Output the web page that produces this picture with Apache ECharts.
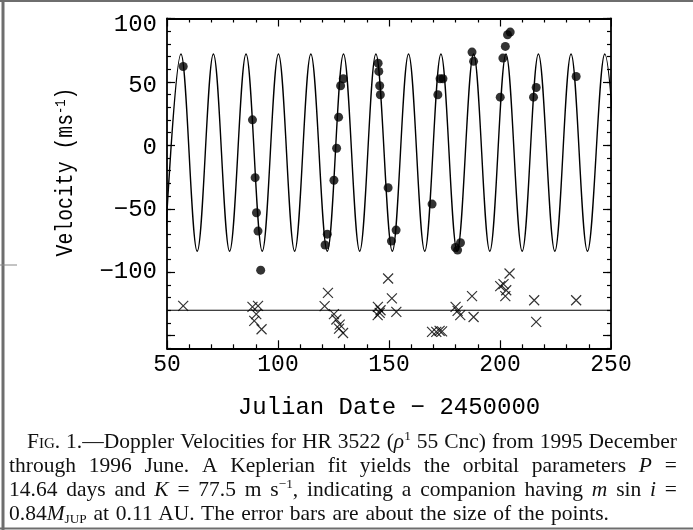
<!DOCTYPE html>
<html>
<head>
<meta charset="utf-8">
<script src="https://cdn.jsdelivr.net/npm/echarts@6/dist/echarts.min.js"></script>
<style>
  html, body { margin:0; padding:0; background:#fff; }
  #chart { position:absolute; left:0; top:0; width:693px; height:530px; }
  .cap { position:absolute; font-family:"Liberation Serif","Times New Roman",serif; font-size:21.5px; color:#111;
         display:flex; justify-content:space-between; white-space:nowrap; line-height:24px; height:24px; }
  .cap span { white-space:nowrap; }
  .sc { font-variant: small-caps; }
  sup, sub { font-size:62%; line-height:0; }
  sup { vertical-align: 0.6em; }
  sub { vertical-align: -0.25em; }
</style>
</head>
<body>
<div id="chart"></div>
<div id="caption"></div>
<script>
// ---- data ----
const xMin = 50, xMax = 250, yMin = -160, yMax = 100;
const xTickValues = [50, 100, 150, 200, 250];
const yLabelValues = [100, 50, 0, -50, -100];
const yMajorTickValues = [-150, -100, -50, 0, 50, 100];

// Observed velocities (filled circles)
const velDays = [57.3, 88.5, 89.7, 90.3, 91.0, 92.2, 121.2, 122.2, 125.2, 126.4, 127.3, 128.2, 129.4,
  145.1, 145.4, 145.8, 146.1, 149.6, 151.1, 153.2, 169.4, 172.0, 173.0, 174.3, 179.9, 180.9, 182.2,
  187.4, 188.1, 200.1, 201.3, 202.4, 203.4, 204.6, 215.1, 216.3, 234.3];
const velValues = [62.2, 20.1, -25.5, -53.1, -67.6, -98.4, -78.6, -70.0, -27.5, -2.3, 22.2, 47.0, 52.5,
  64.8, 58.3, 47.0, 39.9, -33.4, -75.5, -66.8, -46.3, 39.9, 52.5, 52.5, -80.5, -82.6, -76.8,
  73.5, 66.2, 38.0, 68.8, 78.0, 87.2, 89.3, 38.0, 45.6, 54.3];

// Residuals, plotted offset (crosses)
const resDays = [57.3, 88.5, 89.3, 90.2, 91.0, 92.6, 121.0, 122.5, 125.2, 126.3, 127.5, 127.8, 129.3,
  144.9, 145.0, 145.8, 146.2, 149.6, 151.3, 153.3, 169.4, 171.3, 172.8, 173.9, 180.0, 180.9, 182.1,
  187.4, 188.1, 200.1, 201.6, 202.4, 202.8, 204.3, 215.4, 216.3, 234.3];
const resValues = [-126.6, -127.4, -138.4, -133.1, -126.6, -145.0, -126.8, -116.3, -133.1, -137.3, -144.5, -141.3, -147.9,
  -133.9, -127.4, -132.1, -130.0, -105.0, -120.7, -131.3, -147.1, -147.1, -146.3, -146.6, -127.4, -130.5, -133.9,
  -118.9, -135.3, -111.0, -109.4, -118.9, -114.2, -101.0, -122.1, -139.2, -122.1];
const residualZero = -130;

// Keplerian fit curve: extremes (peaks / troughs)
const fitPeakDays = [56.3, 70.9, 85.6, 100.2, 114.8, 129.5, 144.1, 158.8, 173.4, 188.1, 202.7, 217.3, 232.0, 247.2];
const fitTroughDays = [49.0, 63.6, 78.2, 92.9, 107.5, 122.2, 136.8, 151.5, 166.1, 180.7, 195.4, 210.0, 224.7, 239.4, 254.5];
const fitPeakValue = 72.0, fitTroughValue = -83.5;

// ---- build series data ----
const fitData = fitPeakDays.map(d => [d, fitPeakValue])
  .concat(fitTroughDays.map(d => [d, fitTroughValue]))
  .sort((a, b) => a[0] - b[0]);
const velData = velDays.map((d, i) => [d, velValues[i]]);
const resData = resDays.map((d, i) => [d, resValues[i]]);
const zeroData = [[xMin, residualZero], [xMax, residualZero]];

const FONT = '"Liberation Mono", "DejaVu Sans Mono", monospace';
const lineStyle = { color: '#000', width: 1.8 };
const tickStyle = { color: '#000', width: 1.2 };

// small vertical nudges of the y labels, as drawn in the original
const yLabelShift = { '100': 6.5, '50': 4, '0': 2, '-50': 0.5, '-100': -1 };
const yRich = {};
yLabelValues.forEach(v => {
  const s = yLabelShift[String(v)];
  yRich['y' + (v < 0 ? 'm' : 'p') + Math.abs(v)] = {
    fontFamily: FONT, fontSize: 24, color: '#000',
    padding: s >= 0 ? [2 * s, 0, 0, 0] : [0, 0, -2 * s, 0]
  };
});
function fmtY(v) {
  if (yLabelValues.indexOf(v) < 0) return '';
  const key = 'y' + (v < 0 ? 'm' : 'p') + Math.abs(v);
  return '{' + key + '|' + (v < 0 ? '\u2212' : '') + Math.abs(v) + '}';
}

const chart = echarts.init(document.getElementById('chart'), null, { renderer: 'canvas' });
const baseY = { type: 'value', min: yMin, max: yMax, splitLine: { show: false }, offset: 0 };
const baseX = { type: 'value', min: xMin, max: xMax, interval: 50, splitLine: { show: false }, offset: 0 };

chart.setOption({
  animation: false,
  backgroundColor: '#fff',
  grid: { left: 167, right: 82, top: 18.5, bottom: 181.7, containLabel: false, outerBoundsMode: 'none' },
  xAxis: [
    Object.assign({}, baseX, {
      position: 'bottom',
      axisLine: { show: true, onZero: false, lineStyle: lineStyle },
      axisTick: { show: true, inside: true, length: 8, lineStyle: tickStyle },
      minorTick: { show: true, splitNumber: 5, length: 4, lineStyle: tickStyle },
      axisLabel: { show: true, color: '#000', fontFamily: FONT, fontSize: 23, margin: 5,
        customValues: xTickValues, formatter: v => String(v) }
    }),
    Object.assign({}, baseX, {
      position: 'top',
      axisLine: { show: true, onZero: false, lineStyle: lineStyle },
      axisTick: { show: true, inside: true, length: 8, lineStyle: tickStyle },
      minorTick: { show: true, splitNumber: 5, length: 4, lineStyle: tickStyle },
      axisLabel: { show: false }
    })
  ],
  yAxis: [
    Object.assign({}, baseY, {
      position: 'left', interval: 10,
      axisLine: { show: true, onZero: false, lineStyle: lineStyle },
      axisTick: { show: true, inside: true, length: 4, lineStyle: tickStyle },
      axisLabel: { show: true, color: '#000', fontFamily: FONT, fontSize: 24, margin: 10, formatter: fmtY, rich: yRich }
    }),
    Object.assign({}, baseY, {
      position: 'left', interval: 10,
      axisLine: { show: false },
      axisTick: { show: true, inside: true, length: 8, lineStyle: tickStyle, customValues: yMajorTickValues },
      axisLabel: { show: false }
    }),
    Object.assign({}, baseY, {
      position: 'right', interval: 10,
      axisLine: { show: true, onZero: false, lineStyle: lineStyle },
      axisTick: { show: true, inside: true, length: 4, lineStyle: tickStyle },
      axisLabel: { show: false }
    }),
    Object.assign({}, baseY, {
      position: 'right', interval: 10,
      axisLine: { show: false },
      axisTick: { show: true, inside: true, length: 8, lineStyle: tickStyle, customValues: yMajorTickValues },
      axisLabel: { show: false }
    })
  ],
  series: [
    { type: 'line', name: 'fit', data: fitData, smooth: 0.36, showSymbol: false, clip: true,
      lineStyle: { color: '#000', width: 1.4 }, xAxisIndex: 0, yAxisIndex: 0, silent: true },
    { type: 'line', name: 'zero', data: zeroData, showSymbol: false, clip: true,
      lineStyle: { color: '#000', width: 1.1 }, xAxisIndex: 0, yAxisIndex: 0, silent: true },
    { type: 'scatter', name: 'velocity', data: velData, symbol: 'circle', symbolSize: 9,
      itemStyle: { color: '#000' }, xAxisIndex: 0, yAxisIndex: 0 },
    { type: 'scatter', name: 'residual', data: resData, symbol: 'path://M0,0L10,10M10,0L0,10', symbolSize: 10,
      itemStyle: { color: 'none', borderColor: '#000', borderWidth: 1.2 }, xAxisIndex: 0, yAxisIndex: 0 }
  ],
  graphic: [
    // mask the slight overdraw of the clipped fit curve beyond the frame
    { type: 'rect', z: 100, shape: { x: 612, y: 19, width: 8, height: 329 }, style: { fill: '#fff' } },
    { type: 'rect', z: 100, shape: { x: 159, y: 19, width: 7, height: 329 }, style: { fill: '#fff' } },
    { type: 'text', x: 389, y: 408, style: { text: 'Julian Date \u2212 2450000', fontFamily: FONT, fontSize: 24,
      fill: '#000', align: 'center', verticalAlign: 'middle' } },
    { type: 'text', x: 66, y: 172, rotation: Math.PI / 2, scaleX: 0.86,
      style: { text: '{a|Velocity (ms}{s|-1}{a|)}', align: 'center', verticalAlign: 'middle', fill: '#000',
        rich: { a: { fontFamily: FONT, fontSize: 23, fill: '#000' },
                s: { fontFamily: FONT, fontSize: 14, fill: '#000', verticalAlign: 'top' } } } },
    // scan frame
    { type: 'line', shape: { x1: 3, y1: 0, x2: 3, y2: 530 }, style: { stroke: '#6e6e6e', lineWidth: 3 } },
    { type: 'line', shape: { x1: 0, y1: 1, x2: 693, y2: 1 }, style: { stroke: '#6e6e6e', lineWidth: 2 } },
    { type: 'line', shape: { x1: 0, y1: 528.5, x2: 693, y2: 528.5 }, style: { stroke: '#6e6e6e', lineWidth: 2 } },
    { type: 'line', shape: { x1: 0, y1: 265, x2: 17, y2: 265 }, style: { stroke: '#888', lineWidth: 1 } }
  ]
});

// ---- caption ----
const captionLines = [
  { left: 27, top: 429, width: 650, justify: true,
    words: ['<span class="sc">Fig</span>.', '1.\u2014Doppler', 'Velocities', 'for', 'HR', '3522', '(<i>\u03c1</i><sup>1</sup>', '55', 'Cnc)', 'from', '1995', 'December'] },
  { left: 9, top: 453, width: 668, justify: true,
    words: ['through', '1996', 'June.', 'A', 'Keplerian', 'fit', 'yields', 'the', 'orbital', 'parameters', '<i>P</i>', '='] },
  { left: 9, top: 477, width: 668, justify: true,
    words: ['14.64', 'days', 'and', '<i>K</i>', '=', '77.5', 'm', 's<sup>\u22121</sup>,', 'indicating', 'a', 'companion', 'having', '<i>m</i>', 'sin', '<i>i</i>', '='] },
  { left: 9, top: 501, width: 0, justify: false, wordSpacing: 1.4,
    words: ['0.84<i>M</i><sub>JUP</sub>', 'at', '0.11', 'AU.', 'The', 'error', 'bars', 'are', 'about', 'the', 'size', 'of', 'the', 'points.'] }
];
const cap = document.getElementById('caption');
captionLines.forEach(l => {
  const d = document.createElement('div');
  d.className = 'cap';
  d.style.left = l.left + 'px';
  d.style.top = l.top + 'px';
  if (l.justify) {
    d.style.width = l.width + 'px';
    d.innerHTML = l.words.map(w => '<span>' + w + '</span>').join('');
  } else {
    d.style.display = 'block';
    d.style.wordSpacing = (l.wordSpacing || 0) + 'px';
    d.innerHTML = l.words.join(' ');
  }
  cap.appendChild(d);
});
</script>
</body>
</html>
